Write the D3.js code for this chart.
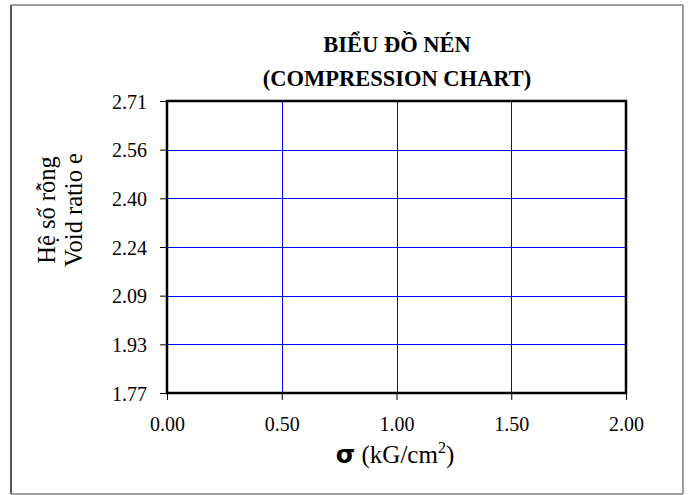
<!DOCTYPE html>
<html>
<head>
<meta charset="utf-8">
<script src="https://cdn.jsdelivr.net/npm/d3@7"></script>
<style>
  html, body { margin: 0; padding: 0; background: #fff; }
  svg { display: block; }
</style>
</head>
<body>
<svg id="chart" width="694" height="495"></svg>
<script>
// ---- data ----
const titleLines = ["BIỂU ĐỒ NÉN", "(COMPRESSION CHART)"];
const yLabelLines = ["Hệ số rỗng", "Void ratio e"];
const xTicks = [0.00, 0.50, 1.00, 1.50, 2.00];
const yTicks = [1.772, 1.929, 2.086, 2.243, 2.400, 2.557, 2.714];
const seriesValues = []; // no data points plotted in the reference

// ---- layout ----
const svg = d3.select("#chart");
const serif = "'Liberation Serif', 'Times New Roman', serif";
const plot = { left: 167, right: 626, top: 101, bottom: 393 };

const x = d3.scaleLinear().domain([xTicks[0], xTicks[xTicks.length - 1]]).range([plot.left, plot.right]);
const y = d3.scaleLinear().domain([yTicks[0], yTicks[yTicks.length - 1]]).range([plot.bottom, plot.top]);

// outer border
svg.append("line").attr("x1", 11).attr("x2", 11).attr("y1", 5).attr("y2", 494).attr("stroke", "#222").attr("stroke-width", 1.5);
svg.append("line").attr("x1", 11).attr("x2", 683).attr("y1", 5).attr("y2", 5).attr("stroke", "#808080").attr("stroke-width", 1.5);
svg.append("line").attr("x1", 683).attr("x2", 683).attr("y1", 5).attr("y2", 494).attr("stroke", "#808080").attr("stroke-width", 1.5);
svg.append("line").attr("x1", 11).attr("x2", 683).attr("y1", 494).attr("y2", 494).attr("stroke", "#808080").attr("stroke-width", 1.5);

// title
svg.append("g").selectAll("text").data(titleLines).join("text")
  .attr("x", 397).attr("y", (d, i) => 52 + i * 34)
  .attr("text-anchor", "middle")
  .style("font-family", serif).attr("font-weight", "bold").attr("font-size", 22.5)
  .attr("fill", "#000").text(d => d);

// gridlines
const grid = svg.append("g");
grid.selectAll("line.h").data(yTicks.slice(1, -1)).join("line").attr("class", "h")
  .attr("x1", plot.left).attr("x2", plot.right)
  .attr("y1", d => Math.round(y(d)) + 0.5).attr("y2", d => Math.round(y(d)) + 0.5)
  .attr("stroke", "#0000ff").attr("stroke-width", 1);
grid.selectAll("line.v").data(xTicks.slice(1, -1)).join("line").attr("class", "v")
  .attr("y1", plot.top).attr("y2", plot.bottom)
  .attr("x1", d => Math.round(x(d)) + 0.5).attr("x2", d => Math.round(x(d)) + 0.5)
  .attr("stroke", "#0000ff").attr("stroke-width", 1);

// axes
const xAxis = d3.axisBottom(x).tickValues(xTicks).tickFormat(d3.format(".2f")).tickSize(7).tickPadding(31);
const yAxis = d3.axisLeft(y).tickValues(yTicks).tickFormat(d3.format(".2f")).tickSize(7).tickPadding(13);

const gx = svg.append("g").attr("transform", `translate(0,${plot.bottom})`).call(xAxis);
const gy = svg.append("g").attr("transform", `translate(${plot.left},0)`).call(yAxis);
[gx, gy].forEach(g => {
  g.attr("font-family", null).attr("font-size", null);
  g.select(".domain").remove();
  g.selectAll(".tick line").attr("stroke", "#000").attr("stroke-width", 1);
  g.selectAll(".tick text").style("font-family", serif).attr("font-size", 20).attr("fill", "#000");
});
gx.selectAll(".tick text").attr("dy", 0);
gy.selectAll(".tick text").attr("dy", "0.35em");

// plot frame
svg.append("rect")
  .attr("x", plot.left).attr("y", plot.top)
  .attr("width", plot.right - plot.left).attr("height", plot.bottom - plot.top)
  .attr("fill", "none").attr("stroke", "#000").attr("stroke-width", 2.5);

// x axis title
const xt = svg.append("text").attr("x", 395).attr("y", 463).attr("text-anchor", "middle")
  .style("font-family", serif).attr("font-size", 25).attr("fill", "#000");
xt.append("tspan").style("font-family", "'DejaVu Sans', sans-serif").attr("font-weight", "bold").text("σ");
xt.append("tspan").text(" (kG/cm");
xt.append("tspan").attr("font-size", 16).attr("dy", -10).text("2");
xt.append("tspan").attr("dy", 10).text(")");

// y axis title
svg.append("g").selectAll("text").data(yLabelLines).join("text")
  .attr("transform", (d, i) => `translate(${55 + i * 27},210) rotate(-90)`)
  .attr("text-anchor", "middle")
  .style("font-family", serif).attr("font-size", 24.5).attr("fill", "#000")
  .text(d => d);
</script>
</body>
</html>
